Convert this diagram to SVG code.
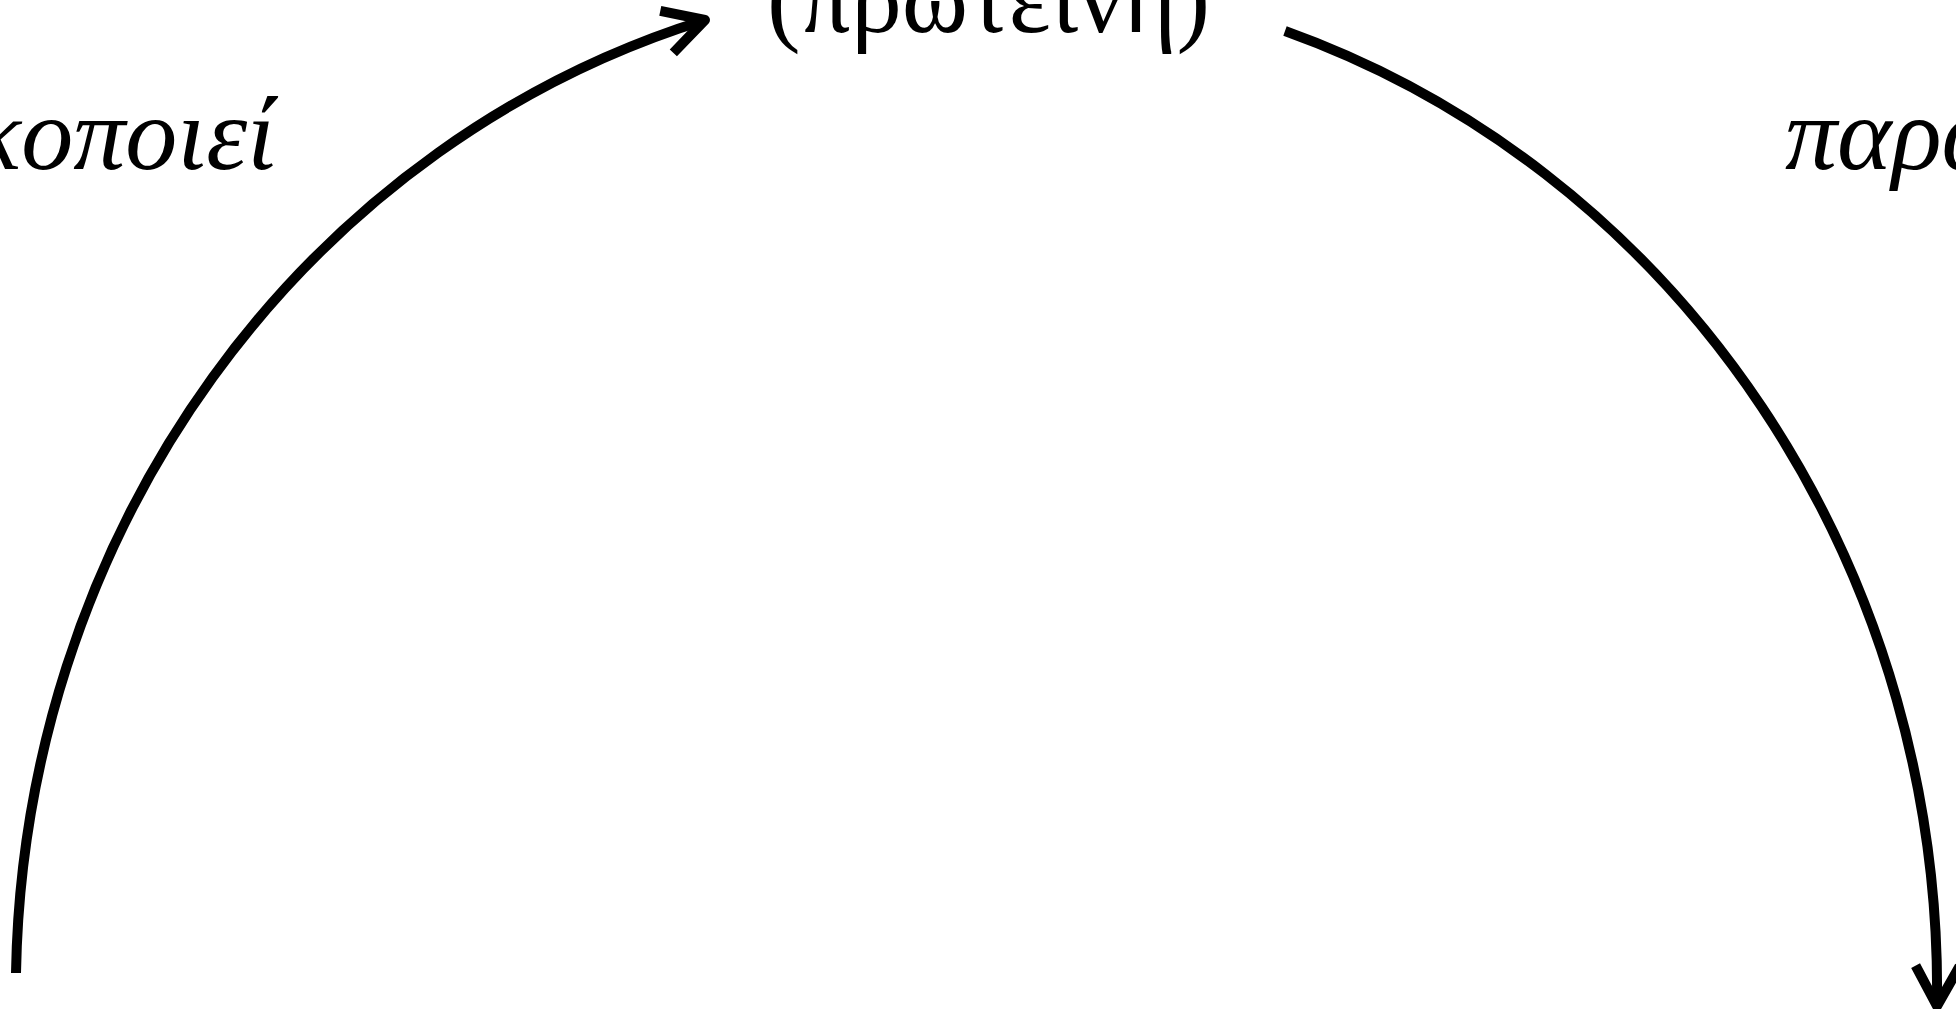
<svg xmlns="http://www.w3.org/2000/svg" width="1956" height="1009" viewBox="0 0 1956 1009">
  <style>
    .lbl { font-family: "Liberation Serif", "DejaVu Serif", serif; font-size: 104px; fill: #000; }
    .it { font-style: italic; }
    .edge { fill: none; stroke: #000; stroke-width: 10; stroke-linecap: butt; }
  </style>
  <defs>
    <marker id="arrow" markerUnits="userSpaceOnUse" viewBox="-50 -30 60 60" markerWidth="60" markerHeight="60" refX="0" refY="0" orient="auto" overflow="visible">
      <path d="M -40 -22 L 0 0 L -40 22" fill="none" stroke="#000" stroke-width="10" stroke-linejoin="round" stroke-linecap="butt"/>
    </marker>
  </defs>
  <rect width="1956" height="1009" fill="#fff"/>

  <g id="node-protein">
    <text class="lbl" x="767" y="32" font-size="100" textLength="443" lengthAdjust="spacingAndGlyphs">(πρωτεΐνη)</text>
  </g>

  <g id="connectors">
    <g id="edge-encodes">
      <path class="edge" d="M 16 973 A 961 1013 0 0 1 705 20" marker-end="url(#arrow)"/>
      <text class="lbl it" x="276" y="169" text-anchor="end">κωδικοποιεί</text>
    </g>
    <g id="edge-produces">
      <path class="edge" d="M 1285 31 A 961 1013 0 0 1 1937 1006" marker-end="url(#arrow)"/>
      <text class="lbl it" x="1785" y="169">παράγει</text>
    </g>
  </g>
</svg>
